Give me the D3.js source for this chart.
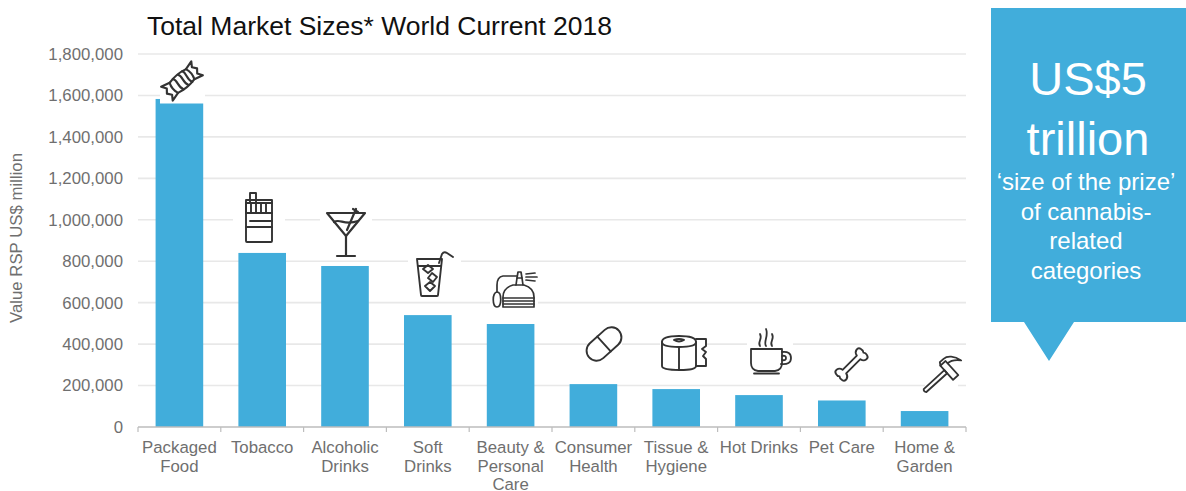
<!DOCTYPE html>
<html>
<head>
<meta charset="utf-8">
<script src="https://cdn.jsdelivr.net/npm/d3@7"></script>
<style>
  html, body { margin: 0; padding: 0; background: #fff; }
  svg { display: block; }
  text { font-family: "Liberation Sans", Arial, sans-serif; }
</style>
</head>
<body>
<div id="chart"></div>
<script>
// Retail value by category, US$ million
const categories = ["Packaged Food", "Tobacco", "Alcoholic Drinks", "Soft Drinks", "Beauty & Personal Care",
  "Consumer Health", "Tissue & Hygiene", "Hot Drinks", "Pet Care", "Home & Garden"];
const marketValues = [1583000, 840000, 777000, 540000, 497000, 207000, 183000, 154000, 128000, 77000];
const yTicks = [0, 200000, 400000, 600000, 800000, 1000000, 1200000, 1400000, 1600000, 1800000];
const categoryLines = [["Packaged", "Food"], ["Tobacco"], ["Alcoholic", "Drinks"], ["Soft", "Drinks"],
  ["Beauty &", "Personal", "Care"], ["Consumer", "Health"], ["Tissue &", "Hygiene"], ["Hot Drinks"], ["Pet Care"], ["Home &", "Garden"]];
const calloutHeadline = ["US$5", "trillion"];
const calloutBody = ["‘size of the prize’", "of cannabis-", "related", "categories"];

const WIDTH = 1186, HEIGHT = 491;
const BLUE = "#41addb", INK = "#333", GRID = "#e8e8e8", LABEL = "#6f6f6f";
const plot = { left: 138, right: 966, top: 54, bottom: 427 };
const LABEL_SIZE = 16.8;

const svg = d3.select("#chart").append("svg").attr("width", WIDTH).attr("height", HEIGHT);

const x = d3.scaleBand().domain(categories).range([plot.left, plot.right]).paddingInner(0.425).paddingOuter(0.2125);
const y = d3.scaleLinear().domain([0, 1800000]).range([plot.bottom, plot.top]);

svg.append("text").attr("x", 147).attr("y", 35).attr("font-size", 26.5).attr("fill", "#111")
  .text("Total Market Sizes* World Current 2018");

// Horizontal gridlines and value labels
const yAxis = svg.append("g").attr("transform", `translate(${plot.left},0)`)
  .call(d3.axisLeft(y).tickValues(yTicks).tickSize(0).tickPadding(15).tickFormat(d3.format(",")));
yAxis.select(".domain").remove();
yAxis.selectAll("text").attr("font-size", LABEL_SIZE).attr("fill", LABEL)
  .style("font-family", '"Liberation Sans", Arial, sans-serif');
svg.append("g").selectAll("line").data(yTicks.slice(1)).join("line")
  .attr("x1", plot.left).attr("x2", plot.right).attr("y1", d => y(d)).attr("y2", d => y(d))
  .attr("stroke", GRID).attr("stroke-width", 1.6);

svg.append("text").attr("transform", "translate(22,238) rotate(-90)").attr("text-anchor", "middle")
  .attr("font-size", LABEL_SIZE).attr("fill", LABEL).text("Value RSP US$ million");

// Bars
svg.append("g").selectAll("rect").data(marketValues).join("rect")
  .attr("x", (d, i) => x(categories[i])).attr("width", x.bandwidth())
  .attr("y", d => y(d)).attr("height", d => y(0) - y(d)).attr("fill", BLUE);

// Category axis with boundary ticks
const edges = d3.range(categories.length + 1).map(i => plot.left + i * x.step());
const axisG = svg.append("g");
axisG.append("line").attr("x1", plot.left).attr("x2", plot.right).attr("y1", plot.bottom).attr("y2", plot.bottom)
  .attr("stroke", "#bdbdbd").attr("stroke-width", 1.5);
axisG.selectAll(".edge").data(edges).join("line").attr("class", "edge")
  .attr("x1", d => d).attr("x2", d => d).attr("y1", plot.bottom).attr("y2", plot.bottom + 5)
  .attr("stroke", "#bdbdbd").attr("stroke-width", 1.2);

const labelG = svg.append("g").selectAll("text").data(categoryLines).join("text")
  .attr("text-anchor", "middle").attr("font-size", LABEL_SIZE).attr("fill", LABEL);
labelG.selectAll("tspan").data((d, i) => d.map(t => ({ t, i }))).join("tspan")
  .attr("x", d => x(categories[d.i]) + x.bandwidth() / 2)
  .attr("y", (d, j) => 453 + j * 18.7)
  .text(d => d.t);

// White knock-outs that sit behind each pictogram
const knockouts = [
  [160, 68, 45, 35.5], [233, 190, 52, 55], [320, 208, 52, 52], [408, 250, 53, 48], [490, 268, 48, 44],
  [587, 325, 35, 38], [660, 332, 47, 40], [747, 325, 46, 50], [925, 358, 33, 34]
];
svg.append("g").selectAll("rect").data(knockouts).join("rect")
  .attr("x", d => d[0]).attr("y", d => d[1]).attr("width", d => d[2]).attr("height", d => d[3]).attr("fill", "#fff");

// Pictograms, drawn as outline paths around a local origin
const icons = svg.append("g").attr("fill", "none").attr("stroke", INK).attr("stroke-width", 1.9)
  .attr("stroke-linejoin", "round").attr("stroke-linecap", "round");
function icon(tx, ty, rot, paths, sw, scale = 1) {
  const g = icons.append("g").attr("transform", `translate(${tx},${ty}) rotate(${rot}) scale(${scale})`);
  if (sw) g.attr("stroke-width", sw);
  paths.forEach(p => g.append("path").attr("d", p));
}

// sweet
icon(182, 81, -40, [
  "M-13,-8 C-5,-10 5,-10 13,-8 C15,-3 15,3 13,8 C5,10 -5,10 -13,8 C-15,3 -15,-3 -13,-8Z",
  "M-13,-8 L-24,-11 L-20,-5 L-24,0 L-20,5 L-24,11 L-13,8",
  "M13,-8 L24,-11 L20,-5 L24,0 L20,5 L24,11 L13,8",
  "M-7,-9 C-3,-4 -9,2 -5,9", "M1,-9 C5,-4 -1,2 3,9", "M8,-9 C11,-4 5,2 9,9"
], 2.6, 0.82);

// cigarette pack
icon(259, 218, 0, [
  "M-13,-15 L13,-15 L13,23 Q13,24 12,24 L-12,24 Q-13,24 -13,23Z",
  "M-13,-5 L13,-5", "M-13,9 L13,9", "M-9,3 L13,3", "M-13,-15 L-13,-5",
  "M-8,-15 L-8,-5", "M-3,-15 L-3,-5", "M2,-15 L2,-5", "M7,-15 L7,-5",
  "M-9,-15 L-9,-25 L-3,-25 L-3,-15", "M-13,-15 L-13,-18 L13,-18 L13,-15"
]);

// martini glass
icon(346, 233, 0, [
  "M-19,-20 L19,-20 L0,3 Z", "M0,3 L0,22", "M-9,23 L9,23",
  "M-12,-11 C-6,-15 -2,-7 12,-12", "M1,-3 L10,-24", "M7,-24 L12,-21"
], 2.2);

// soft drink with straw
icon(430, 277, 0, [
  "M-13,-18 L12,-18 L8,18 Q8,19 7,19 L-8,19 Q-9,19 -9,18 Z",
  "M-12,-11 L11,-11",
  "M-7,-8 L-2,-12 L3,-8 L-2,-4Z", "M-2,1 L2,-4 L7,0 L3,5Z", "M-5,9 L0,5 L5,9 L0,14Z",
  "M9,-14 L12,-23 Q14,-26 17,-24 L23,-20"
]);

// perfume atomiser
icon(514, 291, 0, [
  "M-1,-6 Q-11,-3 -11,6 L-11,16 L20,16 L20,6 Q20,-3 10,-6Z",
  "M-11,7 L20,7", "M-11,10 L20,10", "M-11,13 L20,13",
  "M2,-6 L3,-13 L8,-13 L9,-6", "M3,-13 L4,-19 L7,-19 L8,-13",
  "M3,-15 L-11,-15 Q-17,-14 -17,-6 L-17,1",
  "M-17,1 C-12,1 -12,16 -17,16 C-22,16 -22,1 -17,1Z",
  "M12,-14 L23,-14", "M12,-11 L21,-10", "M12,-17 L21,-18"
], 1.7);

// capsule
icon(604, 344, -42, [
  "M-10,-10 L10,-10 A10,10 0 0 1 10,10 L-10,10 A10,10 0 0 1 -10,-10Z", "M0,-10 L0,10"
]);

// toilet roll
icon(683, 353, 0, [
  "M-21,-11 L-21,13 Q-21,17 -3,17 Q13,17 13,13 L13,-11",
  "M-21,-11 Q-21,-17 -4,-17 Q13,-17 13,-11 Q13,-6 -4,-6 Q-21,-6 -21,-11Z",
  "M-9,-13 Q-4,-15 1,-13 Q-4,-10 -9,-13Z",
  "M-4,-6 L-4,17",
  "M13,-14 L23,-14 L23,-7 L19,-4 L23,-1 L20,3 L23,6 L23,13 L13,13"
]);

// steaming cup
icon(770, 360, 0, [
  "M-19,-11 L12,-11 L12,3 Q12,10 5,11 L-12,11 Q-19,10 -19,3Z",
  "M-16,13.5 L9,13.5",
  "M12,-8 Q21,-9 21,-2 Q21,5 11,4",
  "M12,-4 Q16,-5 16,-2 Q16,1 12,0",
  "M-10,-14 C-13,-18 -7,-21 -10,-26",
  "M-4,-14 C-7,-18 -1,-24 -4,-31",
  "M2,-14 C-1,-18 5,-21 2,-26"
], 1.8);

// bone
icon(851.5, 364.5, -45, [
  "M-12,-3 L12,-3 C13,-9 20,-10 21,-5 Q22,-2 20,0 Q22,2 21,5 C20,10 13,9 12,3 L-12,3 C-13,9 -20,10 -21,5 Q-22,2 -20,0 Q-22,-2 -21,-5 C-20,-10 -13,-9 -12,-3Z"
], 2.2, 0.84);

// hammer
icon(942, 375, -42, [
  "M-23,-1.8 L5,-2 L5,2.2 L-23,2.2 Q-25,0 -23,-1.8Z",
  "M5,-8 L12,-8 L12,11 L5,11Z",
  "M5,-8 L7,-11 L12,-11 C17,-11 22,-6 24,2 C19,-4 16,-5 12,-5"
], 1.8);

// Callout panel with pointer
const panel = { x: 991, y: 8, right: 1186, bottom: 322, tipL: 1024, tipR: 1074, tipX: 1049, tipY: 361 };
svg.append("path").attr("fill", BLUE).attr("d", d3.line()([
  [panel.x, panel.y], [panel.right, panel.y], [panel.right, panel.bottom], [panel.tipR, panel.bottom],
  [panel.tipX, panel.tipY], [panel.tipL, panel.bottom], [panel.x, panel.bottom]
]) + "Z");
svg.append("g").selectAll("text").data(calloutHeadline).join("text")
  .attr("x", 1088).attr("y", (d, i) => 95 + i * 60).attr("text-anchor", "middle")
  .attr("font-size", 47).attr("fill", "#fff").text(d => d);
svg.append("g").selectAll("text").data(calloutBody).join("text")
  .attr("x", 1086).attr("y", (d, i) => 190 + i * 29.5).attr("text-anchor", "middle")
  .attr("font-size", 24).attr("fill", "#fff").text(d => d);
</script>
</body>
</html>
